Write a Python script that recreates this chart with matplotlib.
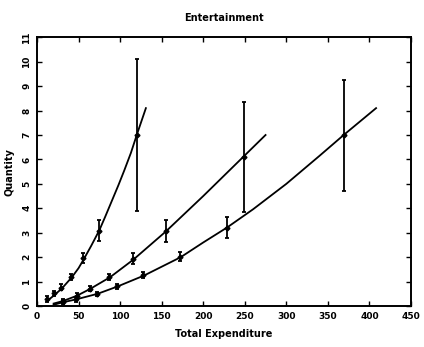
import matplotlib
matplotlib.use("Agg")
import matplotlib.pyplot as plt

# Observed means with error bar limits for the three groups
a_x = [12, 21, 29, 41, 55, 74, 120]
a_y = [0.28, 0.52, 0.75, 1.18, 1.95, 3.05, 7.0]
a_lo = [0.15, 0.42, 0.65, 1.05, 1.75, 2.65, 3.9]
a_hi = [0.40, 0.62, 0.88, 1.32, 2.15, 3.5, 10.1]

b_x = [31, 48, 64, 87, 116, 155, 249]
b_y = [0.2, 0.4, 0.7, 1.18, 1.92, 3.05, 6.1]
b_lo = [0.12, 0.3, 0.6, 1.05, 1.7, 2.6, 3.85]
b_hi = [0.28, 0.52, 0.8, 1.3, 2.15, 3.5, 8.35]

c_x = [31, 47, 72, 96, 128, 172, 229, 369]
c_y = [0.17, 0.27, 0.5, 0.8, 1.27, 2.02, 3.2, 7.0]
c_lo = [0.1, 0.18, 0.42, 0.7, 1.15, 1.85, 2.8, 4.72]
c_hi = [0.24, 0.36, 0.58, 0.9, 1.4, 2.2, 3.65, 9.25]

# Fitted curves
a_fit_x = [12, 20, 30, 42, 50, 56, 65, 75, 82, 90, 98, 105, 113, 120, 126, 131]
a_fit_y = [0.2, 0.42, 0.72, 1.18, 1.55, 1.9, 2.45, 3.1, 3.65, 4.3, 4.95, 5.55, 6.27,
           7.0, 7.6, 8.1]

b_fit_x = [20, 31, 48, 64, 88, 116, 155, 200, 248, 275]
b_fit_y = [0.1, 0.2, 0.42, 0.7, 1.18, 1.9, 3.05, 4.5, 6.1, 7.0]

c_fit_x = [20, 31, 47, 73, 97, 129, 173, 200, 229, 260, 300, 340, 369, 408]
c_fit_y = [0.05, 0.15, 0.27, 0.5, 0.8, 1.25, 2.0, 2.6, 3.22, 3.96, 5.0, 6.15, 7.0, 8.1]

x_ticks = [0, 50, 100, 150, 200, 250, 300, 350, 400, 450]
y_ticks = list(range(0, 12))

fig = plt.figure(figsize=(4.24, 3.47), dpi=100)
ax = fig.add_axes([0.0873, 0.1182, 0.8820, 0.7743])

for fx, fy in [(a_fit_x, a_fit_y), (b_fit_x, b_fit_y), (c_fit_x, c_fit_y)]:
    ax.plot(fx, fy, color="black", lw=1.3, solid_joinstyle="round")

for x, y, lo, hi in [(a_x, a_y, a_lo, a_hi), (b_x, b_y, b_lo, b_hi), (c_x, c_y, c_lo, c_hi)]:
    yerr = [[yy - l for yy, l in zip(y, lo)], [h - yy for yy, h in zip(y, hi)]]
    ax.errorbar(x, y, yerr=yerr, fmt="D", ms=2.5, color="black",
                ecolor="black", elinewidth=1.3, capsize=1.5, capthick=1.3)

ax.set_xlim(0, 450)
ax.set_ylim(0, 11)
ax.set_xticks(x_ticks)
ax.set_yticks(y_ticks)

font = dict(fontsize=6.5, fontweight="bold")
ax.set_xticklabels([str(t) for t in x_ticks], **font)
ax.set_yticklabels([str(t) for t in y_ticks], rotation=90, va="center", **font)
ax.tick_params(direction="in", length=3.5, width=1, top=True, right=True, pad=4)

for s in ax.spines.values():
    s.set_linewidth(1.4)

ax.set_title("Entertainment", fontsize=7, fontweight="bold", pad=12)
ax.set_xlabel("Total Expenditure", fontsize=7, fontweight="bold", labelpad=6)
ax.set_ylabel("Quantity", fontsize=7, fontweight="bold", labelpad=6)

fig.savefig("out.png", dpi=100)
